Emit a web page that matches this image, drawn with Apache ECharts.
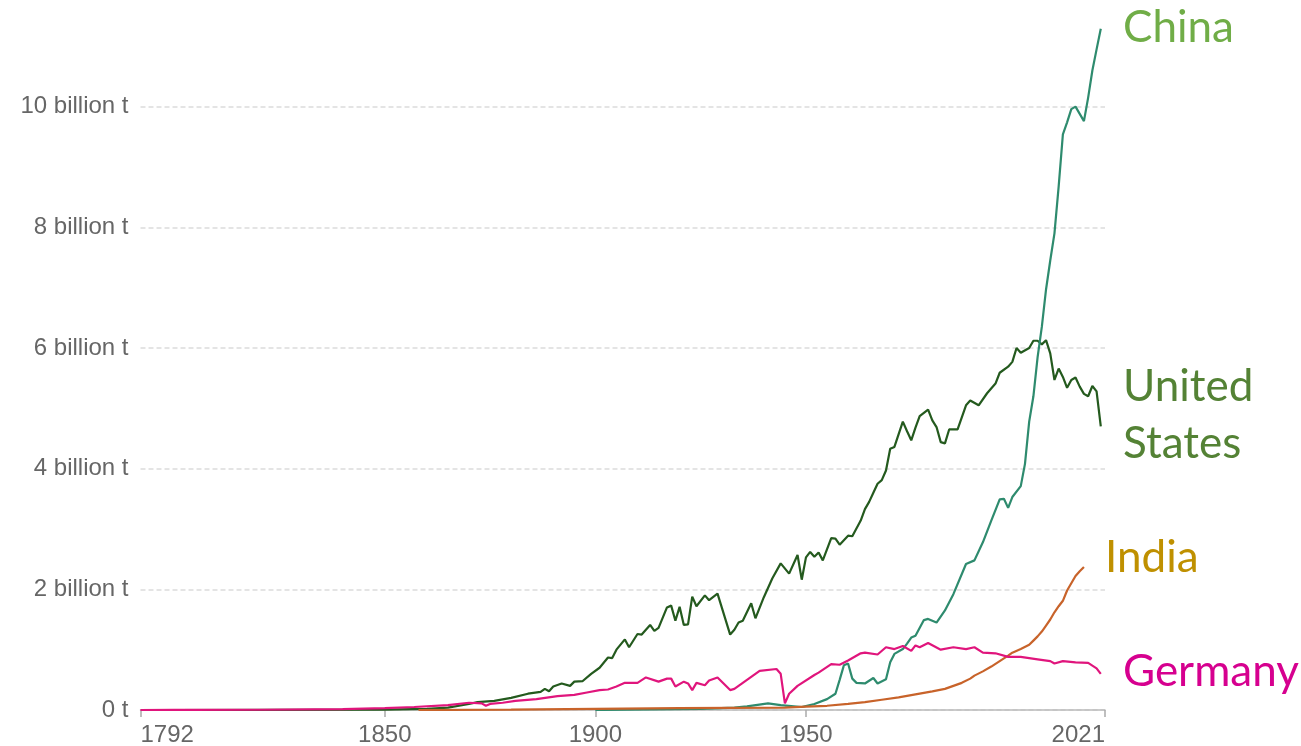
<!DOCTYPE html>
<html>
<head>
<meta charset="utf-8">
<script src="https://cdn.jsdelivr.net/npm/echarts@6/dist/echarts.min.js"></script>
<style>
  html, body { margin: 0; padding: 0; background: #fff; }
  #main { width: 1301px; height: 746px; }
</style>
</head>
<body>
<div id="main"></div>
<script>
// tick labels
var yearTicks = [1792, 1850, 1900, 1950, 2021];

// annual CO2 emissions, billion tonnes as [year, value]
var usData = [
  [1800, 0], [1850, 0.005], [1860, 0.02], [1865, 0.04], [1870, 0.1], [1872, 0.13], [1876, 0.15],
  [1880, 0.2], [1884, 0.27], [1887, 0.3], [1888, 0.35], [1889, 0.31], [1890, 0.39], [1892, 0.44],
  [1894, 0.4], [1895, 0.47], [1897, 0.48], [1899, 0.6], [1901, 0.7], [1903, 0.87], [1904, 0.86],
  [1905, 1.0], [1907, 1.17], [1908, 1.04], [1910, 1.26], [1911, 1.25], [1913, 1.41], [1914, 1.31],
  [1915, 1.36], [1917, 1.7], [1918, 1.73], [1919, 1.48], [1920, 1.71], [1921, 1.41], [1922, 1.42],
  [1923, 1.88], [1924, 1.72], [1926, 1.9], [1927, 1.82], [1929, 1.93], [1932, 1.25], [1933, 1.33],
  [1934, 1.45], [1935, 1.48], [1937, 1.77], [1938, 1.52], [1940, 1.87], [1942, 2.18], [1944, 2.43],
  [1946, 2.26], [1948, 2.57], [1949, 2.16], [1950, 2.53], [1951, 2.62], [1952, 2.54], [1953, 2.61],
  [1954, 2.48], [1956, 2.85], [1957, 2.84], [1958, 2.74], [1960, 2.89], [1961, 2.88], [1963, 3.14],
  [1964, 3.33], [1965, 3.45], [1966, 3.6], [1967, 3.75], [1968, 3.81], [1969, 3.97], [1970, 4.33],
  [1971, 4.36], [1973, 4.78], [1974, 4.62], [1975, 4.47], [1976, 4.68], [1977, 4.87], [1979, 4.98],
  [1980, 4.8], [1981, 4.69], [1982, 4.44], [1983, 4.42], [1984, 4.65], [1986, 4.65], [1988, 5.05],
  [1989, 5.13], [1991, 5.05], [1993, 5.25], [1995, 5.41], [1996, 5.59], [1998, 5.69], [1999, 5.77],
  [2000, 6.0], [2001, 5.92], [2003, 6.0], [2004, 6.12], [2005, 6.12], [2006, 6.06], [2007, 6.13],
  [2008, 5.91], [2009, 5.47], [2010, 5.66], [2011, 5.52], [2012, 5.34], [2013, 5.47], [2014, 5.51],
  [2015, 5.36], [2016, 5.24], [2017, 5.2], [2018, 5.37], [2019, 5.28], [2020, 4.7]
];
var chinaData = [
  [1900, 0], [1925, 0.02], [1933, 0.04], [1936, 0.06], [1941, 0.11], [1944, 0.08], [1949, 0.05],
  [1952, 0.1], [1955, 0.18], [1957, 0.27], [1958, 0.5], [1959, 0.74], [1960, 0.77], [1961, 0.52],
  [1962, 0.45], [1964, 0.44], [1966, 0.53], [1967, 0.44], [1969, 0.51], [1970, 0.79], [1971, 0.93],
  [1973, 1.01], [1974, 1.1], [1975, 1.2], [1976, 1.23], [1978, 1.49], [1979, 1.51], [1981, 1.45],
  [1983, 1.65], [1985, 1.92], [1988, 2.42], [1990, 2.48], [1992, 2.78], [1994, 3.14], [1996, 3.49],
  [1997, 3.5], [1998, 3.35], [1999, 3.53], [2001, 3.71], [2002, 4.08], [2003, 4.78], [2004, 5.2],
  [2005, 5.85], [2006, 6.35], [2007, 6.97], [2008, 7.45], [2009, 7.9], [2010, 8.68], [2011, 9.54],
  [2012, 9.74], [2013, 9.96], [2014, 10.0], [2016, 9.76], [2017, 10.15], [2018, 10.6], [2019, 10.95],
  [2020, 11.29]
];
var indiaData = [
  [1858, 0], [1880, 0.005], [1900, 0.02], [1920, 0.03], [1945, 0.04], [1950, 0.055], [1955, 0.07],
  [1960, 0.1], [1964, 0.13], [1968, 0.17], [1972, 0.21], [1976, 0.26], [1980, 0.31], [1983, 0.35],
  [1985, 0.4], [1987, 0.45], [1989, 0.52], [1990, 0.57], [1992, 0.64], [1994, 0.72], [1996, 0.81],
  [1998, 0.9], [1999, 0.95], [2001, 1.01], [2003, 1.08], [2004, 1.15], [2005, 1.22], [2006, 1.3],
  [2007, 1.4], [2008, 1.5], [2009, 1.62], [2010, 1.72], [2011, 1.81], [2012, 1.98], [2013, 2.1],
  [2014, 2.22], [2015, 2.3], [2016, 2.37]
];
var germanyData = [
  [1792, 0], [1800, 0.001], [1820, 0.004], [1840, 0.015], [1850, 0.03], [1857, 0.05], [1865, 0.08],
  [1870, 0.12], [1873, 0.11], [1874, 0.07], [1875, 0.1], [1878, 0.12], [1881, 0.15], [1886, 0.18],
  [1891, 0.23], [1895, 0.25], [1898, 0.29], [1901, 0.33], [1903, 0.34], [1905, 0.39], [1907, 0.45],
  [1910, 0.45], [1912, 0.54], [1915, 0.47], [1917, 0.52], [1918, 0.52], [1919, 0.39], [1921, 0.47],
  [1922, 0.44], [1923, 0.33], [1924, 0.45], [1926, 0.41], [1927, 0.49], [1929, 0.54], [1932, 0.33],
  [1933, 0.35], [1939, 0.65], [1943, 0.68], [1944, 0.6], [1945, 0.11], [1946, 0.27], [1948, 0.4],
  [1952, 0.58], [1953, 0.62], [1956, 0.76], [1958, 0.75], [1960, 0.82], [1963, 0.94], [1964, 0.95],
  [1967, 0.92], [1969, 1.04], [1971, 1.01], [1973, 1.06], [1975, 0.98], [1976, 1.07], [1977, 1.04],
  [1979, 1.11], [1982, 1.0], [1985, 1.04], [1988, 1.01], [1990, 1.04], [1992, 0.95], [1995, 0.94],
  [1998, 0.88], [2001, 0.88], [2005, 0.84], [2008, 0.81], [2009, 0.77], [2011, 0.81], [2014, 0.79],
  [2017, 0.78], [2019, 0.69], [2020, 0.6]
];

var chart = echarts.init(document.getElementById('main'));

function line(name, data, color) {
  return {
    name: name,
    type: 'line',
    data: data,
    showSymbol: false,
    symbol: 'none',
    lineStyle: { color: color, width: 2.2 },
    itemStyle: { color: color },
    animation: false
  };
}

function label(text, x, y, color) {
  return {
    type: 'text',
    x: x,
    y: y,
    style: {
      text: text,
      fill: color,
      font: '44px Lato',
      verticalAlign: 'middle'
    }
  };
}

var option = {
  backgroundColor: '#fff',
  animation: false,
  grid: { left: 140.5, right: 196, top: -14, bottom: 36, outerBoundsMode: 'none', containLabel: false },
  xAxis: {
    type: 'value',
    min: 1792,
    max: 2021,
    axisLine: { lineStyle: { color: '#bbb', width: 1.5 } },
    axisTick: { customValues: yearTicks, length: 7, lineStyle: { color: '#aaa', width: 1.5 } },
    axisLabel: {
      customValues: yearTicks,
      color: '#666',
      fontSize: 24,
      fontFamily: 'Liberation Sans',
      margin: 13,
      alignMinLabel: 'left',
      alignMaxLabel: 'right',
      formatter: function (v) { return String(v); }
    },
    splitLine: { show: false }
  },
  yAxis: {
    type: 'value',
    min: 0,
    max: 12,
    interval: 2,
    axisLine: { show: false },
    axisTick: { show: false },
    axisLabel: {
      color: '#666',
      fontSize: 24,
      fontFamily: 'Liberation Sans',
      margin: 12,
      padding: [4, 0, 0, 0],
      formatter: function (v) {
        if (v > 10) return '';
        return v === 0 ? '0 t' : v + ' billion t';
      }
    },
    splitLine: { lineStyle: { color: '#dcdcdc', type: [5, 3], width: 1.5 } }
  },
  series: [
    line('United States', usData, '#245a1e'),
    line('China', chinaData, '#2e8b6e'),
    line('India', indiaData, '#c8632a'),
    line('Germany', germanyData, '#e0157c')
  ],
  graphic: [
    label('China', 1123, 28, '#70ad47'),
    label('United', 1123, 387, '#548235'),
    label('States', 1123, 444, '#548235'),
    label('India', 1105, 558, '#bf9000'),
    label('Germany', 1123, 672, '#d6008f')
  ]
};

chart.setOption(option);
</script>
</body>
</html>
